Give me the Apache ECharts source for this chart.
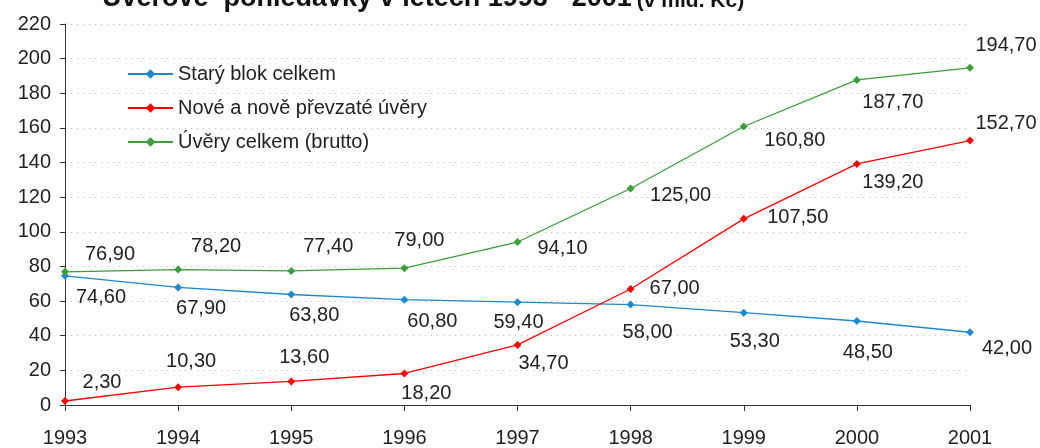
<!DOCTYPE html>
<html>
<head>
<meta charset="utf-8">
<script src="https://cdn.jsdelivr.net/npm/echarts@6/dist/echarts.min.js"></script>
<style>
  html, body { margin: 0; padding: 0; background: #fff; }
  #chart { width: 1040px; height: 448px; }
</style>
</head>
<body>
<div id="chart"></div>
<script>
const years = ['1993', '1994', '1995', '1996', '1997', '1998', '1999', '2000', '2001']
const staryBlok = [74.6, 67.9, 63.8, 60.8, 59.4, 58.0, 53.3, 48.5, 42.0]
const noveUvery = [2.3, 10.3, 13.6, 18.2, 34.7, 67.0, 107.5, 139.2, 152.7]
const uveryCelkem = [76.9, 78.2, 77.4, 79.0, 94.1, 125.0, 160.8, 187.7, 194.7]

// label offsets (px) relative to each point
const staryOff = [[36, 22], [23, 21], [23, 21], [28, 22], [1, 20], [17, 28], [11, 29], [11, 31], [37, 16]]
const noveOff = [[37, -19], [13, -26], [13, -24], [22, 20], [26, 19], [44, 0], [54, -1], [36, 19], [36, -17]]
const celkemOff = [[45, -17], [38, -23], [37, -24], [15, -28], [45, 6], [50, 7], [51, 14], [36, 23], [36, -22]]

const font = "'Liberation Sans', Arial, sans-serif"
const fmt = v => v.toFixed(2).replace('.', ',')

function makeData(values, offsets) {
  return values.map((v, i) => ({ value: v, label: { offset: offsets[i] } }))
}

function makeSeries(name, values, offsets, color) {
  return {
    name,
    type: 'line',
    data: makeData(values, offsets),
    symbol: 'diamond',
    symbolSize: 8,
    lineStyle: { color, width: 1.3 },
    itemStyle: { color },
    label: {
      show: true,
      position: 'inside',
      align: 'center',
      verticalAlign: 'middle',
      fontFamily: font,
      fontSize: 20,
      color: '#222',
      formatter: p => fmt(p.value)
    },
    emphasis: { disabled: true },
    animation: false
  }
}

const chart = echarts.init(document.getElementById('chart'))
chart.setOption({
  animation: false,
  textStyle: { fontFamily: font },
  title: {
    left: 97,
    top: -20,
    text: '{b|Úvěrové  pohledávky v letech 1993 - 2001} {n|(v mld. Kč)}',
    textStyle: {
      rich: {
        b: { fontFamily: font, fontSize: 27, fontWeight: 'bold', color: '#111', verticalAlign: 'bottom' },
        n: { fontFamily: font, fontSize: 21, color: '#111', verticalAlign: 'bottom' }
      }
    }
  },
  legend: {
    orient: 'vertical',
    left: 122,
    top: 59,
    itemWidth: 45,
    itemHeight: 12,
    itemGap: 14,
    textStyle: { fontFamily: font, fontSize: 20, color: '#222', padding: [0, 0, 0, 0] },
    data: ['Starý blok celkem', 'Nové a nově převzaté úvěry', 'Úvěry celkem (brutto)']
  },
  grid: { left: 65, right: 70, top: 24, bottom: 43 },
  xAxis: {
    type: 'category',
    data: years,
    boundaryGap: false,
    axisLine: { lineStyle: { color: '#333', width: 1 } },
    axisTick: { show: true, length: 6, lineStyle: { color: '#333' } },
    axisLabel: { fontFamily: font, fontSize: 20, color: '#222', margin: 23 },
    splitLine: { show: false }
  },
  yAxis: {
    type: 'value',
    min: 0,
    max: 220,
    interval: 20,
    axisLine: { show: true, lineStyle: { color: '#333', width: 1 } },
    axisTick: { show: true, length: 5, lineStyle: { color: '#333' } },
    axisLabel: { fontFamily: font, fontSize: 20, color: '#222', margin: 14 },
    splitLine: { show: true, lineStyle: { color: '#bbb', type: [1, 5], width: 1 } }
  },
  series: [
    makeSeries('Starý blok celkem', staryBlok, staryOff, '#1e88cc'),
    makeSeries('Nové a nově převzaté úvěry', noveUvery, noveOff, '#ff0000'),
    makeSeries('Úvěry celkem (brutto)', uveryCelkem, celkemOff, '#3a9e3a')
  ]
})
</script>
</body>
</html>
